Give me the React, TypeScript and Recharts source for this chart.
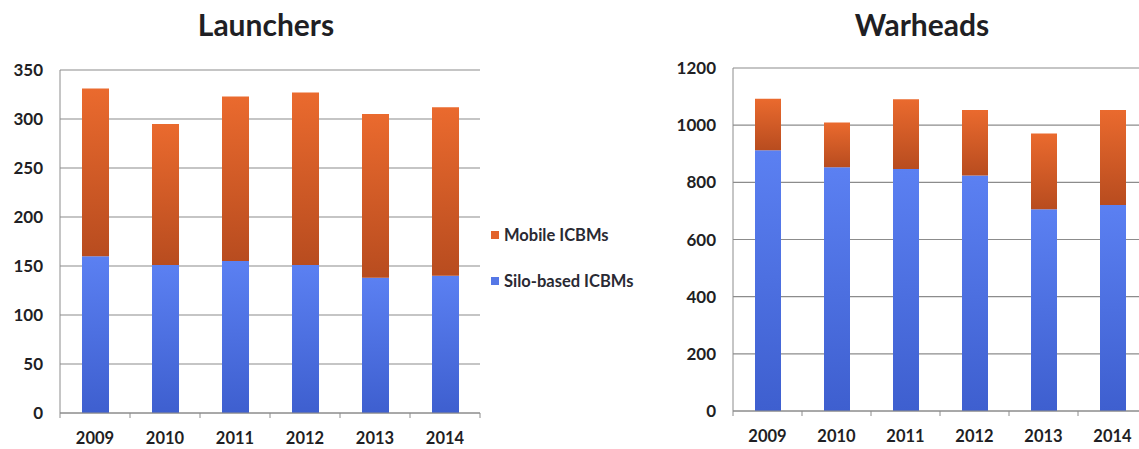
import React from "react";
import { BarChart, Bar, XAxis, YAxis, CartesianGrid } from "recharts";

const years = ["2009", "2010", "2011", "2012", "2013", "2014"];

const launchersSilo = [160, 151, 155, 151, 138, 140];
const launchersMobile = [171, 144, 168, 176, 167, 172];
const launcherTicks = [0, 50, 100, 150, 200, 250, 300, 350];

const warheadsSilo = [912, 853, 847, 824, 706, 721];
const warheadsMobile = [180, 156, 244, 229, 265, 332];
const warheadTicks = [0, 200, 400, 600, 800, 1000, 1200];

const font = "Lato, 'Open Sans', sans-serif";
const textColor = "#1f1f24";
const gridColor = "#8c8c8c";

const launchersData = years.map((y, i) => ({ year: y, silo: launchersSilo[i], mobile: launchersMobile[i] }));
const warheadsData = years.map((y, i) => ({ year: y, silo: warheadsSilo[i], mobile: warheadsMobile[i] }));

function Gradients() {
  return (
    <defs>
      <linearGradient id="gBlue" x1="0" y1="0" x2="0" y2="1">
        <stop offset="0%" stopColor="#5b80f2" />
        <stop offset="100%" stopColor="#3e5fcf" />
      </linearGradient>
      <linearGradient id="gOrange" x1="0" y1="0" x2="0" y2="1">
        <stop offset="0%" stopColor="#ea6a2e" />
        <stop offset="100%" stopColor="#b84c1f" />
      </linearGradient>
    </defs>
  );
}

function makeXTick(band: number, axisY: number) {
  return function XTick(props: any) {
    const { x, payload, index } = props;
    return (
      <g>
        <line x1={x - band / 2} x2={x - band / 2} y1={axisY} y2={axisY + 5} stroke={gridColor} />
        {index === years.length - 1 && (
          <line x1={x + band / 2} x2={x + band / 2} y1={axisY} y2={axisY + 5} stroke={gridColor} />
        )}
        <text x={x} y={axisY + 31} textAnchor="middle" fontFamily={font} fontWeight={700} fontSize={16.5} fill={textColor}>
          {payload.value}
        </text>
      </g>
    );
  };
}

function StackChart({
  data,
  ticks,
  max,
  width,
  top,
  plotH,
  barSize,
  band,
}: {
  data: any[];
  ticks: number[];
  max: number;
  width: number;
  top: number;
  plotH: number;
  barSize: number;
  band: number;
}) {
  return (
    <BarChart width={width} height={449} data={data} margin={{ top, right: 10, bottom: 0, left: 0 }} barSize={barSize}>
      <Gradients />
      <CartesianGrid vertical={false} stroke={gridColor} strokeWidth={1.2} />
      <XAxis
        dataKey="year"
        height={449 - top - plotH}
        axisLine={{ stroke: gridColor }}
        tickLine={false}
        tickSize={0}
        tick={makeXTick(band, top + plotH)}
        interval={0}
      />
      <YAxis
        width={60}
        domain={[0, max]}
        ticks={ticks}
        axisLine={{ stroke: gridColor }}
        tickLine={false}
        tickSize={0}
        tickMargin={17}
        tick={{ fontFamily: font, fontWeight: 700, fontSize: 17, fill: textColor }}
      />
      <Bar dataKey="silo" stackId="a" fill="url(#gBlue)" isAnimationActive={false} />
      <Bar dataKey="mobile" stackId="a" fill="url(#gOrange)" isAnimationActive={false} />
    </BarChart>
  );
}

export default function App() {
  const title: React.CSSProperties = {
    position: "absolute",
    top: 6,
    fontFamily: font,
    fontWeight: 700,
    fontSize: 30,
    color: textColor,
    transform: "translateX(-50%)",
    whiteSpace: "nowrap",
  };
  const legendRow: React.CSSProperties = {
    position: "absolute",
    left: 491,
    display: "flex",
    alignItems: "center",
    fontFamily: font,
    fontWeight: 700,
    fontSize: 16.5,
    color: "#2a2a33",
    whiteSpace: "nowrap",
  };
  const swatch = (c: string): React.CSSProperties => ({
    width: 8,
    height: 8,
    background: c,
    marginRight: 5,
  });
  return (
    <div style={{ position: "fixed", left: 0, top: 0, width: 1139, height: 449, overflow: "hidden", background: "#fff" }}>
      <div style={{ ...title, left: 266 }}>Launchers</div>
      <div style={{ ...title, left: 922 }}>Warheads</div>

      <div style={{ position: "absolute", left: 0, top: 0 }}>
        <StackChart data={launchersData} ticks={launcherTicks} max={350} width={490} top={70} plotH={343} barSize={27} band={70} />
      </div>

      <div style={{ ...legendRow, top: 225 }}>
        <div style={swatch("#e2622a")} />
        Mobile ICBMs
      </div>
      <div style={{ ...legendRow, top: 271 }}>
        <div style={swatch("#5577e6")} />
        Silo-based ICBMs
      </div>

      <div style={{ position: "absolute", left: 673, top: 0 }}>
        <StackChart data={warheadsData} ticks={warheadTicks} max={1200} width={484} top={68} plotH={343} barSize={26} band={69} />
      </div>
    </div>
  );
}
